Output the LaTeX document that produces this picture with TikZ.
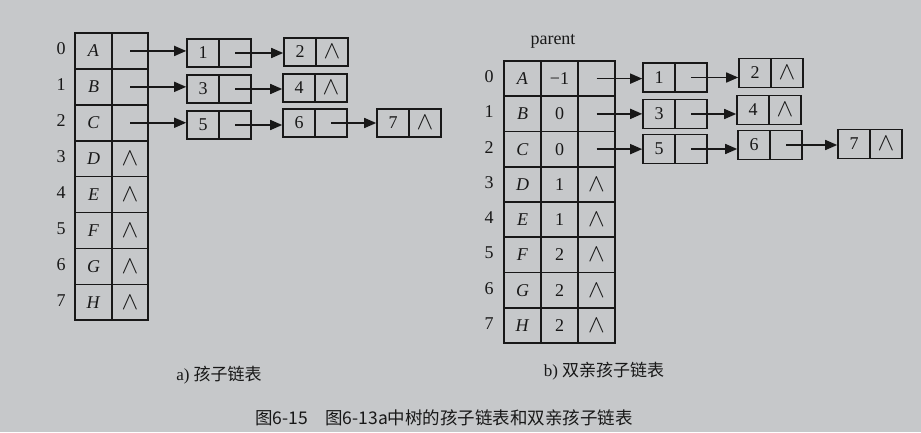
\documentclass[tikz,border=0pt]{standalone}
\usepackage{fontspec}
\usepackage{graphicx}
\setmainfont{Liberation Serif}
\newfontfamily\cjk{Noto Sans CJK SC}
\usetikzlibrary{arrows.meta}
\definecolor{paper}{RGB}{198,200,202}
\definecolor{ink}{RGB}{24,24,24}
\newcommand{\nil}{\scalebox{1.45}{$\wedge$}}
\tikzset{
  base/.style={draw=ink, line width=1.6pt, inner sep=0pt, text=ink, font=\fontsize{18}{18}\selectfont},
  acell/.style={base, minimum width=36.5pt, minimum height=35.9pt},
  bcell/.style={base, minimum width=37pt, minimum height=35.25pt},
  lcella/.style={base, minimum width=32pt, minimum height=28pt},
  lcellb/.style={base, minimum width=32pt, minimum height=29pt},
  idx/.style={text=ink, font=\fontsize{18}{18}\selectfont},
  arr/.style={draw=ink, line width=1.6pt, -{Triangle[length=12pt,width=10pt]}},
}
% \lbx{style}{name}{left x}{y}{value}{pointer content}
\newcommand{\lbx}[6]{%
  \node[#1] (#2d) at (#3+16,#4) {#5};
  \node[#1] (#2p) at (#3+48,#4) {#6};
}
\begin{document}
\begin{tikzpicture}[x=1pt,y=-1pt]
\fill[paper] (0,0) rectangle (921,432);
\useasboundingbox (0,0) rectangle (921,432);

% ---------- a) table ----------
\foreach \i/\L/\P in {0/A/,1/B/,2/C/,3/D/\nil,4/E/\nil,5/F/\nil,6/G/\nil,7/H/\nil}{
  \pgfmathsetmacro{\yy}{33+35.9*(\i+0.5)}
  \node[acell] (aD\i) at (93.5,\yy) {\textit{\L}};
  \node[acell] (aP\i) at (130,\yy) {\P};
  \node[idx] (aI\i) at (61,\yy-2) {\i};
}
\lbx{lcella}{a1}{187}{53}{1}{}
\lbx{lcella}{a2}{284}{52}{2}{\nil}
\lbx{lcella}{a3}{187}{89}{3}{}
\lbx{lcella}{a4}{283}{88}{4}{\nil}
\lbx{lcella}{a5}{187}{125}{5}{}
\lbx{lcella}{a6}{283}{123}{6}{}
\lbx{lcella}{a7}{377}{123}{7}{\nil}

\draw[arr] (aP0.center) -- (aP0.center -| a1d.west);
\draw[arr] (a1p.center) -- (a1p.center -| a2d.west);
\draw[arr] (aP1.center) -- (aP1.center -| a3d.west);
\draw[arr] (a3p.center) -- (a3p.center -| a4d.west);
\draw[arr] (aP2.center) -- (aP2.center -| a5d.west);
\draw[arr] (a5p.center) -- (a5p.center -| a6d.west);
\draw[arr] (a6p.center) -- (a6p.center -| a7d.west);

% ---------- b) table ----------
\node[idx] (parent) at (553,41) {parent};
\foreach \i/\L/\N/\P in {0/A/{−1}/,1/B/0/,2/C/0/,3/D/1/\nil,4/E/1/\nil,5/F/2/\nil,6/G/2/\nil,7/H/2/\nil}{
  \pgfmathsetmacro{\yy}{61+35.25*(\i+0.5)}
  \node[bcell] (bD\i) at (522.5,\yy) {\textit{\L}};
  \node[bcell] (bN\i) at (559.5,\yy) {\N};
  \node[bcell] (bP\i) at (596.5,\yy) {\P};
  \node[idx] (bI\i) at (489,\yy-2) {\i};
}
\lbx{lcellb}{b1}{643}{77.5}{1}{}
\lbx{lcellb}{b2}{739}{73}{2}{\nil}
\lbx{lcellb}{b3}{643}{114}{3}{}
\lbx{lcellb}{b4}{737}{110}{4}{\nil}
\lbx{lcellb}{b5}{643}{149}{5}{}
\lbx{lcellb}{b6}{738}{145}{6}{}
\lbx{lcellb}{b7}{838}{144}{7}{\nil}

\draw[arr] (bP0.center) -- (bP0.center -| b1d.west);
\draw[arr] (b1p.center) -- (b1p.center -| b2d.west);
\draw[arr] (bP1.center) -- (bP1.center -| b3d.west);
\draw[arr] (b3p.center) -- (b3p.center -| b4d.west);
\draw[arr] (bP2.center) -- (bP2.center -| b5d.west);
\draw[arr] (b5p.center) -- (b5p.center -| b6d.west);
\draw[arr] (b6p.center) -- (b6p.center -| b7d.west);

% ---------- captions ----------
\node[idx, font=\fontsize{17}{17}\selectfont] (capa) at (219,375) {a) {\cjk 孩子链表}};
\node[idx, font=\fontsize{17}{17}\selectfont] (capb) at (604,371) {b) {\cjk 双亲孩子链表}};
\node[idx, font=\fontsize{17.5}{17.5}\selectfont\cjk] (cap) at (444,418) {图6-15\quad 图6-13a中树的孩子链表和双亲孩子链表};
\end{tikzpicture}
\end{document}
